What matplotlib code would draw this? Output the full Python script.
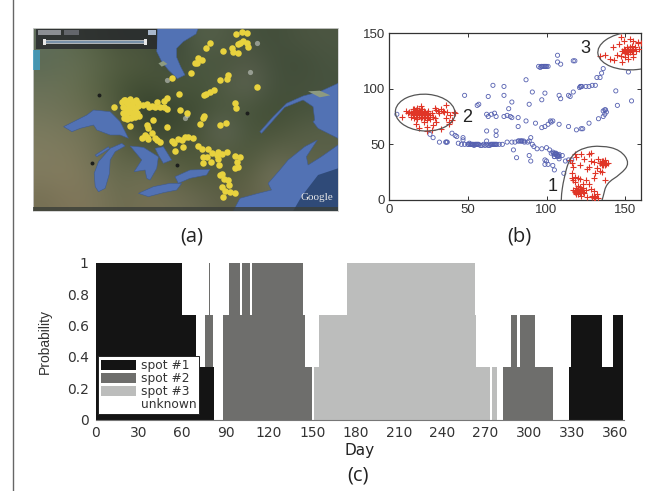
import matplotlib
matplotlib.use('Agg')
import matplotlib.pyplot as plt
from matplotlib.patches import Polygon, Ellipse, PathPatch, Rectangle
from matplotlib.path import Path

W, H = 659, 491

# (a) map, everything in map pixel units
map_land = [
    [(96, 110, 92), (92, 104, 78), (84, 96, 68), (70, 80, 58), (72, 82, 60), (58, 70, 52), (84, 96, 74), (82, 92, 70), (70, 82, 62), (66, 78, 58), (74, 84, 64), (76, 86, 66)],
    [(92, 106, 84), (100, 110, 84), (92, 102, 74), (82, 92, 64), (78, 88, 62), (64, 76, 56), (76, 88, 66), (72, 84, 60), (84, 90, 72), (68, 80, 60), (64, 76, 56), (72, 84, 64)],
    [(104, 112, 88), (104, 112, 82), (90, 100, 70), (72, 84, 56), (66, 78, 52), (78, 88, 62), (70, 84, 58), (82, 92, 70), (96, 102, 84), (68, 80, 60), (70, 80, 60), (70, 82, 62)],
    [(112, 116, 90), (108, 112, 84), (98, 104, 74), (74, 84, 58), (52, 64, 44), (58, 70, 48), (66, 78, 54), (76, 88, 62), (72, 84, 60), (66, 78, 54), (70, 82, 58), (72, 84, 64)],
    [(122, 122, 94), (118, 118, 90), (110, 112, 82), (84, 90, 62), (60, 72, 50), (62, 72, 50), (74, 84, 58), (100, 106, 90), (72, 84, 60), (74, 84, 58), (84, 92, 68), (88, 96, 72)],
    [(128, 124, 96), (126, 122, 92), (112, 112, 84), (92, 98, 70), (88, 94, 66), (80, 88, 60), (76, 86, 58), (82, 90, 64), (78, 88, 60), (96, 100, 76), (92, 98, 72), (90, 96, 72)],
    [(128, 122, 94), (132, 124, 94), (118, 116, 88), (102, 106, 78), (112, 112, 84), (96, 100, 72), (88, 94, 64), (84, 90, 62), (92, 96, 68), (116, 116, 92), (104, 106, 82), (96, 100, 78)],
    [(118, 112, 84), (128, 118, 90), (124, 118, 90), (108, 108, 80), (118, 112, 84), (112, 110, 84), (104, 104, 80), (92, 94, 70), (98, 98, 72), (108, 108, 84), (90, 92, 72), (70, 76, 60)],
]
superior = [(130, 320), (170, 300), (200, 285), (220, 270), (270, 275), (300, 305), (325, 355), (300, 345), (270, 345), (230, 330), (220, 315), (180, 325), (155, 335)]
michigan = [(225, 500), (222, 460), (235, 425), (270, 385), (305, 370), (315, 378), (285, 395), (270, 420), (268, 460), (255, 505), (235, 515)]
green_bay = [(225, 405), (265, 380), (268, 386), (230, 410)]
huron = [(330, 378), (370, 382), (415, 410), (410, 445), (390, 480), (380, 475), (375, 450), (342, 455), (365, 420)]
georgian = [(405, 385), (430, 380), (455, 420), (430, 430), (415, 405)]
erie = [(355, 520), (400, 500), (450, 490), (485, 490), (470, 510), (430, 518), (385, 530)]
ontario = [(465, 470), (510, 450), (570, 448), (560, 465), (510, 475), (475, 490)]
james_bay = [(412, 24), (535, 24), (528, 42), (490, 65), (470, 85), (470, 112), (482, 140), (495, 165), (472, 176), (445, 150), (425, 125), (410, 95)]
gulf = [(720, 335), (760, 290), (800, 250), (850, 228), (900, 215), (955, 190), (955, 355), (915, 335), (895, 325), (880, 305), (885, 300), (880, 260), (850, 240), (795, 262), (745, 318), (725, 340)]
atlantic = [(640, 573), (660, 535), (715, 520), (755, 510), (745, 490), (780, 450), (805, 420), (855, 380), (893, 360), (860, 410), (865, 435), (905, 410), (955, 375), (955, 573)]
deep_sea = [(955, 445), (895, 465), (845, 530), (820, 573), (955, 573)]
anticosti = [(865, 214), (900, 212), (932, 226), (900, 232)]
akimiski = [(415, 130), (430, 123), (442, 132), (425, 140)]
pin_x = [305, 312, 320, 330, 340, 348, 355, 310, 318, 328, 338, 346, 354, 308, 316, 325, 335, 344, 352, 312, 322, 332, 342, 316, 326, 336,
         283, 320, 330, 345, 358, 368, 380, 395, 388, 410, 440, 432, 405, 420, 440, 432, 478, 480, 500, 400, 380, 385, 442, 540, 548, 553,
         600, 618, 645, 648, 710, 558, 570, 583, 552, 600, 625, 620, 513, 457, 525, 535, 545, 530, 558, 570, 608, 635, 640, 655, 648, 665,
         680, 660, 680, 685, 655, 670, 365, 380, 395, 410, 385, 420, 405, 375, 455, 475, 495, 520, 462, 485, 505, 465, 488, 535, 545, 565,
         575, 595, 605, 622, 548, 560, 550, 572, 595, 597, 645, 660, 650, 655, 645, 605, 612, 625, 605, 628, 615, 630, 645, 610, 600, 592]
pin_y = [245, 240, 250, 238, 245, 240, 250, 262, 268, 258, 262, 268, 258, 278, 285, 275, 280, 272, 278, 295, 290, 295, 288, 240, 270, 252,
         260, 298, 318, 290, 288, 255, 252, 258, 262, 245, 235, 242, 262, 262, 268, 260, 222, 270, 278, 300, 315, 325, 322, 312, 295, 288,
         316, 308, 250, 265, 200, 222, 215, 210, 225, 180, 165, 178, 158, 175, 128, 115, 120, 128, 85, 70, 93, 85, 95, 100, 42, 35,
         40, 70, 68, 82, 72, 62, 355, 350, 340, 360, 358, 365, 355, 345, 362, 358, 352, 355, 368, 360, 350, 393, 382, 378, 388, 388,
         398, 395, 402, 396, 410, 412, 430, 425, 418, 435, 408, 412, 425, 440, 445, 462, 478, 480, 502, 495, 512, 515, 520, 530, 465, 405]
dark_lake_x = [235, 680, 470, 215]
dark_lake_y = [226, 280, 435, 430]
pale_patch_x = [710, 495, 440, 690, 500]
pale_patch_y = [70, 295, 180, 155, 285]

# (b) trajectories
other_x = [5, 26, 28, 32, 36, 37, 40, 42, 43, 47, 47, 44, 46, 48, 50, 51, 52, 53, 54, 55, 56, 57, 58, 59, 60, 61, 62, 63, 64, 65, 66, 67, 68,
           62, 62, 68, 68, 62, 65, 67, 68, 63, 73, 75, 77, 78, 82, 82, 76, 73, 73, 66, 63, 48, 57, 56, 78,
           87, 91, 99, 97, 108, 109, 114, 115, 117, 122, 121, 125, 127, 129, 131, 144, 145, 154,
           95, 96, 97, 98, 99, 100, 101, 107, 107, 109, 117, 118, 136, 135, 134, 132, 152,
           89, 87, 93, 97, 99, 101, 103, 104, 108, 114, 119, 122, 123, 127, 133, 136, 137, 138, 137, 136,
           70, 72, 75, 78, 80, 82, 84, 86, 88, 90, 89, 91, 92, 94, 97, 100, 102, 103, 104, 105, 106, 107, 108, 105, 107,
           110, 108, 112, 114, 116, 99, 100, 101, 104, 105, 89, 90, 79, 81, 99, 111]
other_y = [77, 59, 56, 52, 52, 52, 60, 58, 57, 56, 54, 51, 50, 50, 50, 51, 50, 50, 49, 50, 50, 50, 49, 49, 50, 49, 50, 49, 49, 50, 50, 50, 50,
           53, 62, 62, 58, 77, 77, 78, 75, 75, 75, 76, 75, 74, 74, 66, 82, 94, 102, 103, 93, 94, 86, 85, 88,
           108, 97, 96, 90, 94, 91, 94, 93, 97, 102, 101, 102, 102, 103, 103, 98, 85, 89,
           120, 119, 120, 120, 120, 120, 120, 130, 124, 122, 125, 125, 118, 114, 110, 110, 115,
           86, 71, 69, 65, 66, 68, 70, 71, 68, 66, 63, 64, 64, 69, 73, 75, 77, 79, 81, 80,
           50, 50, 52, 52, 52, 53, 53, 52, 52, 56, 53, 50, 48, 46, 46, 47, 45, 42, 43, 41, 42, 40, 41, 39, 39,
           40, 37, 35, 36, 36, 36, 35, 32, 31, 27, 40, 35, 45, 38, 32, 24]
# tightest runs of the path, many repeats at nearly one place
path_core_x = [50.5, 51.5, 52.5, 53.5, 54.5, 55.5, 56.5, 64.5, 65.5, 66.5, 67.5, 68.5, 97, 98.5, 99.5, 104.5, 105.5, 106.5, 107.5, 105, 106, 108, 82.5, 83.5, 84.5, 85.5, 137.5, 122.5, 121.5, 36.5, 102.5]
path_core_y = [50, 50, 50, 50, 50, 50, 50, 50, 50, 50, 50, 50, 120, 120, 120, 42, 42, 41, 40, 39, 41, 39, 53, 53, 53, 53, 81, 102, 102, 52, 71]

# (b) spots
spot_x = [8, 11, 12, 13, 14, 15, 15, 16, 16, 17, 17, 18, 18, 18, 19, 19, 19, 20, 20, 20, 20, 21, 21, 21, 22, 22, 22, 23, 23, 24, 24, 25, 25, 26, 27, 28,
          17, 19, 22, 24, 26, 28, 29, 30, 31, 32, 33, 34, 35, 36, 37, 38, 39, 40, 41, 42, 30, 33, 36, 38, 29, 24, 27,
          148, 149, 150, 151, 151, 152, 152, 153, 153, 154, 154, 155, 155, 156, 157, 158, 146, 147, 149, 150, 153, 155, 158, 160, 143, 145, 140, 137, 134, 142, 155, 152, 148, 147, 159,
          134, 135, 135, 136, 136, 137, 137, 138, 139, 133, 132, 130, 128, 127, 134, 131, 126, 121, 119, 124, 116, 118, 122, 127, 128, 115, 117,
          117, 118, 119, 119, 120, 120, 121, 121, 122, 122, 123, 124, 125, 118, 123, 127, 129, 130, 131, 132, 133, 126, 116, 118, 120, 121, 128, 130, 116, 117, 125, 130, 137, 135]
spot_y = [75, 80, 78, 79, 75, 82, 77, 80, 74, 81, 78, 83, 79, 75, 81, 78, 76, 84, 80, 78, 74, 82, 79, 76, 80, 77, 74, 79, 75, 78, 72, 76, 80, 76, 78, 75,
          68, 65, 70, 62, 73, 67, 74, 81, 80, 78, 82, 80, 79, 85, 79, 70, 76, 72, 79, 78, 70, 64, 74, 68, 83, 66, 63,
          134, 136, 132, 137, 133, 135, 131, 136, 133, 138, 134, 135, 131, 137, 134, 141, 140, 129, 143, 128, 145, 143, 142, 141, 126, 130, 127, 130, 129, 137, 128, 127, 124, 146, 136,
          33, 32, 35, 31, 34, 33, 36, 32, 33, 37, 29, 34, 35, 30, 26, 24, 28, 31, 39, 37, 33, 41, 41, 41, 42, 36, 30,
          9, 7, 11, 5, 8, 13, 6, 10, 8, 4, 11, 6, 9, 16, 14, 14, 4, 2, 3, 5, 2, 3, 20, 21, 20, 19, 10, 8, 24, 18, 18, 20, 18, 25]
spot_core_x = [14, 15, 16, 17, 18, 19, 20, 21, 22, 23, 24, 25, 15, 17, 19, 21, 23, 25, 16, 18, 20, 22, 24, 18, 20, 22,
               149, 150, 151, 152, 153, 154, 155, 150, 152, 154, 151, 153,
               134, 135, 136, 137, 138, 135, 136, 137,
               118, 119, 120, 121, 122, 123, 119, 120, 121, 122, 120, 121, 129, 130, 131]
spot_core_y = [78, 76, 79, 77, 80, 77, 79, 77, 78, 76, 77, 78, 80, 75, 80, 75, 78, 75, 82, 77, 76, 79, 74, 73, 82, 75,
               134, 135, 134, 136, 135, 134, 136, 133, 133, 135, 135, 137,
               33, 34, 32, 33, 33, 31, 35, 31,
               8, 9, 8, 9, 8, 7, 6, 10, 7, 10, 5, 12, 3, 4, 2]
spot1_outline_x = [109, 111, 115, 123, 135, 147, 153, 147, 138, 136, 134, 110]
spot1_outline_y = [0, 20, 39, 47, 49, 45, 33, 23, 15, 3, -6, -6]

# (c) time spent per day, one list entry per run of days
spot1_from = [0, 60, 69.5, 328, 329.5, 350.5, 358.6]
spot1_to = [60, 69.5, 82, 329.5, 350.5, 358.6, 365.6]
spot1_prob = [1, 0.667, 0.333, 0.333, 0.667, 0.333, 0.667]
spot2_from = [75.5, 78.5, 88.5, 92.5, 100, 101.5, 107, 108.5, 143.5, 145, 282.5, 287.6, 291.8, 294, 304]
spot2_to = [81, 79.5, 92.5, 100, 101.5, 107, 108.5, 143.5, 145, 150, 287.6, 291.8, 294, 304, 316.5]
spot2_prob = [0.667, 1, 0.667, 1, 0.667, 1, 0.667, 1, 0.667, 0.333, 0.333, 0.667, 0.333, 0.667, 0.333]
spot3_from = [151.5, 155, 174, 262.6, 263.3, 274.4]
spot3_to = [155, 174, 262.6, 263.3, 273, 278]
spot3_prob = [0.333, 0.667, 1, 0.667, 0.333, 0.333]
day_ticks = list(range(0, 361, 30))
prob_ticks = [0, 0.2, 0.4, 0.6, 0.8, 1]
prob_labels = ['0', '0.2', '0.4', '0.6', '0.8', '1']


def px_axes(fig, left, top, right, bottom):
    return fig.add_axes([left / W, 1 - bottom / H, (right - left) / W, (bottom - top) / H])


plt.rcParams['font.family'] = ['Liberation Sans', 'DejaVu Sans']
fig = plt.figure(figsize=(W / 100, H / 100), dpi=100)

# thin rule on the page's left edge
fig.add_artist(plt.Line2D([12.5 / W, 12.5 / W], [0, 1], color='#666666', lw=1))

# (a)
ax = px_axes(fig, 33, 28, 338, 211)
ax.imshow(map_land, extent=(38, 955, 573, 24), interpolation='bicubic', aspect='auto')
water = '#5272b4'
for shape in [james_bay, superior, michigan, green_bay, huron, georgian, erie, ontario, gulf, atlantic]:
    ax.add_patch(Polygon(shape, closed=True, fc=water, ec='#3e5a8e', lw=0.4, zorder=2))
ax.add_patch(Polygon(deep_sea, closed=True, fc='#2f4a78', ec='none', zorder=2))
for shape in [anticosti, akimiski]:
    ax.add_patch(Polygon(shape, closed=True, fc='#8d9a80', ec='none', zorder=3))
ax.scatter(dark_lake_x, dark_lake_y, s=8, c='#1c1e1c', linewidths=0, zorder=3)
ax.scatter(pale_patch_x, pale_patch_y, s=14, c='#c6cac4', alpha=0.6, linewidths=0, zorder=3)
ax.add_patch(Rectangle((38, 90), 22, 60, fc='#3fa0c8', alpha=0.8, ec='none', zorder=3))
ax.scatter(pin_x, pin_y, s=22, c='#e8d23e', marker='o', linewidths=0, zorder=5)
# Earth toolbar
ax.add_patch(Rectangle((48, 28), 362, 58, fc='#26282c', alpha=0.8, ec='none', zorder=6))
ax.add_patch(Rectangle((72, 60), 306, 10, fc='#7890a8', ec='#d8d8d8', lw=0.5, zorder=7))
ax.add_patch(Rectangle((68, 58), 9, 16, fc='#e8e8e8', ec='none', zorder=8))
ax.add_patch(Rectangle((373, 58), 9, 16, fc='#e8e8e8', ec='none', zorder=8))
ax.add_patch(Rectangle((52, 30), 70, 14, fc='#8c8f94', ec='none', zorder=7))
ax.add_patch(Rectangle((132, 30), 44, 14, fc='#63666b', ec='none', zorder=7))
ax.add_patch(Rectangle((385, 31), 22, 14, fc='#a9b8cc', ec='none', zorder=7))
ax.add_patch(Rectangle((38, 562), 917, 11, fc='#3a3e38', alpha=0.8, ec='none', zorder=6))
ax.text(892, 533, 'Google', color='#e8e8e8', fontsize=8, family='Liberation Serif', ha='center', va='center', zorder=7)
ax.set_xlim(38, 955)
ax.set_ylim(573, 24)
ax.set_xticks([])
ax.set_yticks([])
for s in ax.spines.values():
    s.set_color('#cfcfcf')
    s.set_linewidth(0.6)

# (b)
ax = px_axes(fig, 389, 33, 641, 200)
ax.scatter(other_x + path_core_x, other_y + path_core_y, s=9, facecolors='none', edgecolors='#5560b0', linewidths=0.6, zorder=2)
ax.scatter(spot_x + spot_core_x, spot_y + spot_core_y, s=14, c='#e03527', marker='+', linewidths=0.8, zorder=3)
ax.add_patch(Ellipse((23, 78.5), 38, 33, angle=-8, fc='none', ec='#555555', lw=0.9, zorder=4))
ax.add_patch(Ellipse((155, 134), 45, 34, angle=8, fc='none', ec='#555555', lw=0.9, zorder=4))
# rounded outline: corners are control points, curve runs between edge midpoints
n = len(spot1_outline_x)
mids = [((spot1_outline_x[i] + spot1_outline_x[(i + 1) % n]) / 2, (spot1_outline_y[i] + spot1_outline_y[(i + 1) % n]) / 2) for i in range(n)]
verts = [mids[-1]]
for i in range(n):
    verts.extend([(spot1_outline_x[i], spot1_outline_y[i]), mids[i]])
codes = [Path.MOVETO] + [Path.CURVE3] * (2 * n)
ax.add_patch(PathPatch(Path(verts, codes), fc='none', ec='#555555', lw=0.9, zorder=4))
ax.text(104, 12, '1', fontsize=13, color='#222222', ha='center', va='center')
ax.text(49.5, 74, '2', fontsize=13, color='#222222', ha='center', va='center')
ax.text(124.5, 136, '3', fontsize=13, color='#222222', ha='center', va='center')
ax.set_xlim(0, 160)
ax.set_ylim(0, 150)
ax.set_xticks([0, 50, 100, 150])
ax.set_yticks([0, 50, 100, 150])
ax.tick_params(direction='in', length=3, width=0.7, labelsize=9.5, colors='#333333', top=True, right=True, pad=3)
for s in ax.spines.values():
    s.set_color('#333333')
    s.set_linewidth(0.9)

# (c)
ax = px_axes(fig, 95.7, 263, 624, 419.5)
black, mid, light = '#141414', '#6e6e6c', '#bcbdbc'
ax.bar(spot1_from, spot1_prob, [b - a for a, b in zip(spot1_from, spot1_to)], align='edge', color=black, linewidth=0, label='spot #1')
# spot 2 sits on top of spot 1 only in the short stretch around day 78
base2 = [0.333 if d < 85 else 0 for d in spot2_from]
ax.bar(spot2_from, [p - b for p, b in zip(spot2_prob, base2)], [b - a for a, b in zip(spot2_from, spot2_to)], bottom=base2, align='edge', color=mid, linewidth=0, label='spot #2')
ax.bar(spot3_from, spot3_prob, [b - a for a, b in zip(spot3_from, spot3_to)], align='edge', color=light, linewidth=0, label='spot #3')
ax.bar([365], [1], [0.6], align='edge', color=mid, linewidth=0)
ax.bar([0], [0], [0], color='white', linewidth=0, label='unknown')
ax.set_xlim(0, 366)
ax.set_ylim(0, 1)
ax.set_xticks(day_ticks)
ax.set_yticks(prob_ticks)
ax.set_yticklabels(prob_labels)
ax.tick_params(length=0, colors='#333333', pad=5)
for t in ax.get_xticklabels() + ax.get_yticklabels():
    t.set_family('DejaVu Sans')
    t.set_fontsize(10)
ax.set_xlabel('Day', fontsize=11, family='DejaVu Sans', color='#222222')
ax.xaxis.set_label_coords(0.5, -0.15)
ax.set_ylabel('Probability', fontsize=10, color='#333333')
ax.yaxis.set_label_coords(-0.083, 0.497)
ax.spines['top'].set_visible(False)
ax.spines['right'].set_visible(False)
ax.spines['left'].set_visible(False)
ax.spines['bottom'].set_color('#777777')
leg = ax.legend(loc='lower left', bbox_to_anchor=(0.004, 0.035), frameon=True, fancybox=False, framealpha=1,
                prop={'family': 'DejaVu Sans', 'size': 8.8}, edgecolor='#222222', borderaxespad=0, borderpad=0.25,
                labelspacing=0.0, handlelength=2.9, handleheight=0.9, handletextpad=0.35, labelcolor='#333333')
leg.get_frame().set_linewidth(0.7)

# panel captions
for label, x, y in [('(a)', 192, 236.5), ('(b)', 519, 236.5), ('(c)', 358, 476)]:
    fig.text(x / W, 1 - y / H, label, fontsize=14.5, family='Open Sans', color='#222222', ha='center', va='center')

fig.savefig('out.png', dpi=100)
